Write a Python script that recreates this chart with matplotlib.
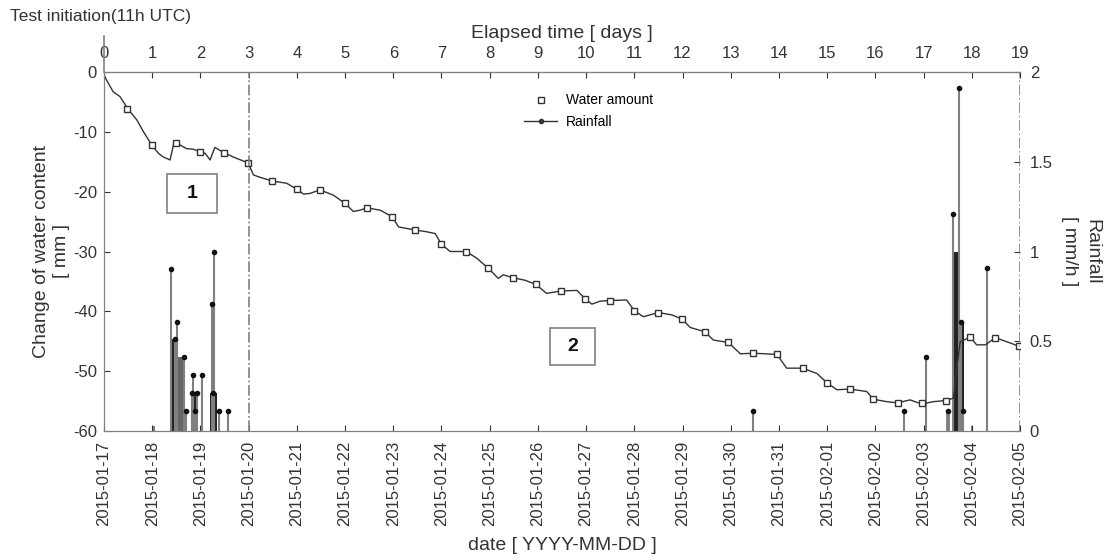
import matplotlib
matplotlib.use("Agg")
import matplotlib.pyplot as plt
from matplotlib.lines import Line2D
from matplotlib.patches import Rectangle

plt.rcParams.update({"font.family": ["Liberation Sans", "DejaVu Sans"],
                     "axes.unicode_minus": False, "font.size": 12})
INK = "#333333"
GREY = "#808080"

# --- data -------------------------------------------------------------------
# water amount curve, elapsed days vs change of water content [mm]
line_day = [0.00, 0.05, 0.19, 0.33, 0.50, 0.68, 0.82, 0.99, 1.13, 1.23, 1.37, 1.44,
            1.49, 1.71, 1.85, 1.99, 2.10, 2.20, 2.30, 2.49, 2.68, 2.99, 3.10, 3.20,
            3.48, 3.79, 4.00, 4.14, 4.27, 4.48, 4.76, 4.99, 5.17, 5.31, 5.45, 5.73,
            5.98, 6.11, 6.45, 6.69, 6.87, 7.00, 7.18, 7.51, 7.73, 7.97, 8.18, 8.28,
            8.49, 8.73, 8.96, 9.18, 9.48, 9.81, 9.98, 10.12, 10.29, 10.50, 10.84, 11.00,
            11.19, 11.50, 11.78, 11.99, 12.16, 12.46, 12.64, 12.95, 13.20, 13.47, 13.96, 14.16,
            14.49, 14.79, 14.99, 15.20, 15.48, 15.82, 15.96, 16.24, 16.46, 16.72, 16.96, 17.20,
            17.47, 17.62, 17.68, 17.76, 17.97, 18.10, 18.28, 18.49, 18.73, 18.97, 19.00]
line_mm = [-0.5, -1.3, -3.3, -4.1, -6.2, -8.0, -10.0, -12.2, -13.6, -14.2, -14.7, -12.2,
           -11.8, -12.8, -12.9, -13.3, -13.6, -14.7, -12.6, -13.5, -14.2, -15.2, -17.2, -17.5,
           -18.2, -18.6, -19.6, -20.4, -20.3, -19.7, -20.6, -21.9, -23.3, -23.1, -22.7, -23.1,
           -24.2, -25.9, -26.4, -26.7, -27.0, -28.8, -30.0, -30.0, -31.1, -32.8, -34.5, -33.9,
           -34.4, -34.8, -35.5, -37.0, -36.6, -36.5, -37.9, -38.8, -38.3, -38.2, -38.1, -39.9,
           -40.9, -40.2, -40.6, -41.3, -42.7, -43.4, -44.8, -45.2, -47.1, -47.0, -47.2, -49.5,
           -49.5, -50.4, -51.9, -53.1, -53.0, -53.4, -54.7, -55.1, -55.3, -54.8, -55.5, -55.1,
           -54.9, -54.5, -50.0, -45.1, -44.3, -45.6, -45.6, -44.4, -45.1, -45.8, -45.8]

# square markers on the curve (every 12 h)
mark_day = [0.48, 0.99, 1.49, 1.99, 2.49, 2.99, 3.48, 4.00, 4.48, 4.99, 5.45, 5.98,
            6.45, 7.00, 7.51, 7.97, 8.49, 8.96, 9.48, 9.98, 10.50, 11.00, 11.50, 11.99,
            12.46, 12.95, 13.47, 13.96, 14.49, 14.99, 15.48, 15.96, 16.46, 16.96, 17.47, 17.96,
            18.49, 18.97]
mark_mm = [-6.2, -12.2, -11.8, -13.3, -13.5, -15.2, -18.2, -19.6, -19.7, -21.9, -22.7, -24.2,
           -26.4, -28.8, -30.0, -32.8, -34.4, -35.5, -36.6, -37.9, -38.2, -39.9, -40.2, -41.3,
           -43.4, -45.2, -47.0, -47.2, -49.5, -52.0, -53.0, -54.7, -55.3, -55.4, -55.0, -44.3,
           -44.5, -45.8]

# rainfall stems [mm/h]
rain_day = [1.04, 1.40, 1.47, 1.51, 1.65, 1.70, 1.83, 1.85, 1.89, 1.92, 2.03, 2.23,
            2.27, 2.28, 2.39, 2.58, 13.47, 16.60, 17.05, 17.51, 17.61, 17.74, 17.78, 17.82,
            18.00, 18.32]
rain_val = [0.03, 0.90, 0.51, 0.61, 0.41, 0.11, 0.21, 0.31, 0.11, 0.21, 0.31, 0.71,
            0.21, 1.00, 0.11, 0.11, 0.11, 0.11, 0.41, 0.11, 1.21, 1.91, 0.61, 0.11,
            0.03, 0.91]

# filled rainfall blocks: start day, end day, mm/h
block_start = [1.42, 1.54, 1.80, 2.20, 17.47, 17.59, 17.73]
block_end = [1.54, 1.66, 1.90, 2.34, 17.55, 17.73, 17.83]
block_val = [0.51, 0.41, 0.21, 0.21, 0.11, 1.00, 0.61]
block_col = ["#222222", "#666666", "#222222", "#222222", "#888888", "#222222", "#222222"]

days = list(range(20))
date_labels = ["2015-01-17", "2015-01-18", "2015-01-19", "2015-01-20", "2015-01-21",
               "2015-01-22", "2015-01-23", "2015-01-24", "2015-01-25", "2015-01-26",
               "2015-01-27", "2015-01-28", "2015-01-29", "2015-01-30", "2015-01-31",
               "2015-02-01", "2015-02-02", "2015-02-03", "2015-02-04", "2015-02-05"]
mm_ticks = [-60, -50, -40, -30, -20, -10, 0]
rain_ticks = [0, 0.5, 1, 1.5, 2]
rain_tick_labels = ["0", "0.5", "1", "1.5", "2"]

# --- figure -------------------------------------------------------------------
fig = plt.figure(figsize=(11.08, 5.6), dpi=100)
ax = fig.add_axes([104 / 1108, 1 - 431 / 560, 916 / 1108, 359 / 560])
ax2 = ax.twinx()
ax.set_zorder(ax2.get_zorder() + 1)
ax.patch.set_visible(False)

# rainfall on the right axis
for s, e, v, c in zip(block_start, block_end, block_val, block_col):
    ax2.bar(s, v, width=e - s, align="edge", color=c, lw=0)
ax2.vlines(rain_day, 0, rain_val, color=GREY, lw=1.5)
capped = [(d, v) for d, v in zip(rain_day, rain_val) if v > 0.05]
ax2.plot([d for d, _ in capped], [v for _, v in capped], ls="none", marker="o",
         ms=3.0, color="#111111")
ax2.set_ylim(0, 2)
ax2.set_yticks(rain_ticks)
ax2.set_yticklabels(rain_tick_labels)
ax2.set_ylabel("Rainfall\n[ mm/h ]", rotation=270, labelpad=34, color=INK, fontsize=14,
               linespacing=1.35)

# water content on the left axis
ax.plot(line_day, line_mm, color=INK, lw=1.0)
ax.plot(mark_day, mark_mm, ls="none", marker="s", ms=5.0, mfc="white", mec=INK, mew=1.0)
ax.axvline(3, color=GREY, lw=1.2, ls="-.")
ax.axvline(19, color=GREY, lw=1.2, ls="-.")
ax.set_xlim(0, 19)
ax.set_ylim(-60, 0)
ax.set_yticks(mm_ticks)
ax.set_xticks(days)
ax.set_xticklabels(date_labels, rotation=90)
ax.set_ylabel("Change of water content\n[ mm ]", fontsize=14, color=INK, labelpad=2,
              linespacing=1.25)
ax.set_xlabel("date [ YYYY-MM-DD ]", fontsize=14, color=INK, labelpad=8)

top = ax.secondary_xaxis("top")
top.set_xticks(days)
top.set_xlabel("Elapsed time [ days ]", fontsize=14, color=INK, labelpad=6)

for a in (ax, ax2, top):
    a.tick_params(direction="in", length=4, colors=INK, labelcolor=INK, labelsize=12)
ax.tick_params(axis="y", pad=5)
ax.tick_params(axis="x", pad=7)
ax2.tick_params(axis="y", pad=7)
top.tick_params(axis="x", pad=8)
for a in (ax, ax2):
    a.spines["right"].set_visible(False)
    for sp in ("left", "bottom", "top"):
        a.spines[sp].set_color(GREY)
top.spines["top"].set_color(GREY)

# test initiation marker above the left spine
ax.plot([0, 0], [1, 1.1], transform=ax.transAxes, color=GREY, lw=1.2, clip_on=False)
fig.text(10 / 1108, 1 - 17 / 560, "Test initiation(11h UTC)", fontsize=12.5, color=INK,
         va="center", ha="left")

# numbered boxes
ax.add_patch(Rectangle((1.30, -23.6), 1.05, 6.6, fill=False, ec=GREY, lw=1.2))
ax.text(1.825, -20.3, "1", ha="center", va="center", fontsize=14, fontweight="bold", color="#111111")
ax.add_patch(Rectangle((9.25, -49.0), 0.94, 6.2, fill=False, ec=GREY, lw=1.2))
ax.text(9.72, -45.9, "2", ha="center", va="center", fontsize=14, fontweight="bold", color="#111111")

ax.legend(handles=[
    Line2D([0], [0], ls="none", marker="s", ms=5.0, mfc="white", mec=INK, label="Water amount"),
    Line2D([0], [0], color=INK, lw=1.0, marker="o", ms=3, label="Rainfall"),
], loc="upper left", bbox_to_anchor=(0.445, 0.975), frameon=False, fontsize=10,
    handlelength=2.4, labelspacing=0.55, handletextpad=0.6)

fig.savefig("out.png", dpi=100)
